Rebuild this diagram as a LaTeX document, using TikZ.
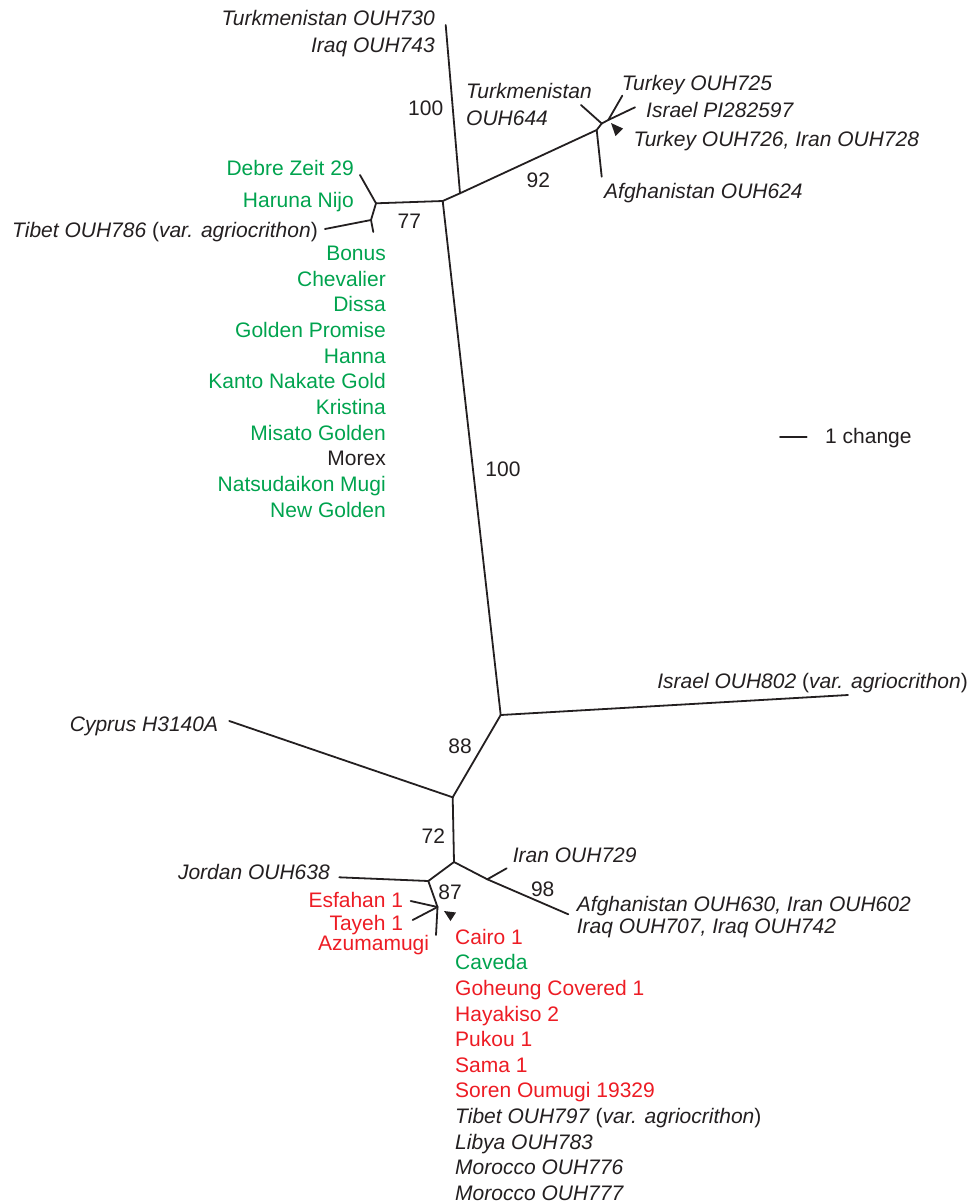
\documentclass[tikz,border=0pt]{standalone}
\usepackage{fontspec}
\setmainfont{Liberation Sans}
\definecolor{grn}{RGB}{0,163,78}
\definecolor{rd}{RGB}{237,28,36}
\definecolor{ink}{RGB}{35,31,32}
\begin{document}
\begin{tikzpicture}[x=1pt,y=-1pt,
  br/.style={line width=1.8pt, line cap=round, draw=ink},
  lab/.style={inner sep=0pt, text=ink, font=\fontsize{21}{25}\selectfont},
  itl/.style={lab, font=\fontsize{21}{25}\selectfont\itshape},
  gl/.style={lab, text=grn},
  rl/.style={lab, text=rd},
  tri/.style={fill=ink, draw=none}]
\useasboundingbox (0,0) rectangle (973,1203);
% ---------- internal nodes and leaf ends ----------
\coordinate (B) at (442.7,201);
\coordinate (A) at (460,193.3);
\coordinate (t730) at (445.7,25);
\coordinate (C) at (596.7,130);
\coordinate (afg624) at (601.7,176.7);
\coordinate (D1) at (601.7,123.5);
\coordinate (tk644) at (581,105);
\coordinate (D2) at (608.3,120);
\coordinate (tur725) at (622.3,95.7);
\coordinate (isr) at (635,107.3);
\coordinate (E) at (376,203.3);
\coordinate (debre) at (360,175);
\coordinate (F) at (371,220);
\coordinate (tib786) at (325,229);
\coordinate (fstub) at (373.3,232);
\coordinate (G) at (500.7,715);
\coordinate (isr802) at (848,695);
\coordinate (H) at (452.7,797.3);
\coordinate (cyp) at (229.3,721);
\coordinate (I) at (454,862);
\coordinate (J) at (428.3,881);
\coordinate (jor) at (339.3,877.3);
\coordinate (L) at (437.5,907);
\coordinate (esf) at (410.7,901);
\coordinate (tay) at (412.7,920);
\coordinate (azu) at (436,935);
\coordinate (K) at (487.3,879.3);
\coordinate (ir729) at (506.7,868.3);
\coordinate (afg630) at (568.3,914.3);
\coordinate (s1) at (780,436.7);
\coordinate (s2) at (806.7,436.7);
% ---------- branches ----------
\draw[br] (B) -- (A);
\draw[br] (A) -- (t730);
\draw[br] (A) -- (C);
\draw[br] (C) -- (afg624);
\draw[br] (C) -- (D1);
\draw[br] (D1) -- (tk644);
\draw[br] (D1) -- (D2);
\draw[br] (D2) -- (tur725);
\draw[br] (D2) -- (isr);
\draw[br] (B) -- (E);
\draw[br] (E) -- (debre);
\draw[br] (E) -- (F);
\draw[br] (F) -- (tib786);
\draw[br] (F) -- (fstub);
\draw[br] (B) -- (G);
\draw[br] (G) -- (isr802);
\draw[br] (G) -- (H);
\draw[br] (H) -- (cyp);
\draw[br] (H) -- (I);
\draw[br] (I) -- (J);
\draw[br] (J) -- (jor);
\draw[br] (J) -- (L);
\draw[br] (L) -- (esf);
\draw[br] (L) -- (tay);
\draw[br] (L) -- (azu);
\draw[br] (I) -- (K);
\draw[br] (K) -- (ir729);
\draw[br] (K) -- (afg630);
\draw[br] (s1) -- (s2);
% arrowheads (zero-length branches)
\fill[tri] (611,123) -- (623,128.5) -- (615.5,136) -- cycle;
\fill[tri] (444,911) -- (456,912.5) -- (450.5,921) -- cycle;
% ---------- support values ----------
\node[lab] (b100a) at (425.7,108.3) {100};
\node[lab] (b92) at (538.3,180) {92};
\node[lab] (b77) at (409.3,221) {77};
\node[lab] (b100b) at (503,469) {100};
\node[lab] (b88) at (460,746) {88};
\node[lab] (b72) at (433.3,836) {72};
\node[lab] (b98) at (542.7,889.3) {98};
\node[lab] (b87) at (450,892) {87};
% ---------- top labels ----------
\node[itl, anchor=base east] (l730) at (435,25.3) {Turkmenistan OUH730};
\node[itl, anchor=base east] (l743) at (435,52) {Iraq OUH743};
\node[itl, anchor=base west] (l644a) at (466,98.7) {Turkmenistan};
\node[itl, anchor=base west] (l644b) at (466,125.3) {OUH644};
\node[itl, anchor=base west] (l725) at (621.7,90.3) {Turkey OUH725};
\node[itl, anchor=base west] (lisr) at (646,117) {Israel PI282597};
\node[itl, anchor=base west] (l726) at (633.3,146) {Turkey OUH726, Iran OUH728};
\node[itl, anchor=base west] (l624) at (604,198) {Afghanistan OUH624};
% ---------- left cluster ----------
\node[gl, anchor=base east] (ldeb) at (354,175) {Debre Zeit 29};
\node[gl, anchor=base east] (lhar) at (354,207) {Haruna Nijo};
\node[lab, anchor=base east] (l786) at (318,237) {\textit{Tibet OUH786} (\textit{var. agriocrithon})};
\node[gl, anchor=base east] (c1) at (386,260.3) {Bonus};
\node[gl, anchor=base east] (c2) at (386,286) {Chevalier};
\node[gl, anchor=base east] (c3) at (386,311.6) {Dissa};
\node[gl, anchor=base east] (c4) at (386,337.3) {Golden Promise};
\node[gl, anchor=base east] (c5) at (386,363) {Hanna};
\node[gl, anchor=base east] (c6) at (386,388.6) {Kanto Nakate Gold};
\node[gl, anchor=base east] (c7) at (386,414.3) {Kristina};
\node[gl, anchor=base east] (c8) at (386,440) {Misato Golden};
\node[lab, anchor=base east] (c9) at (386,465.6) {Morex};
\node[gl, anchor=base east] (c10) at (386,491.3) {Natsudaikon Mugi};
\node[gl, anchor=base east] (c11) at (386,517) {New Golden};
% scale bar
\node[lab, anchor=base west] (lsc) at (825,443.7) {1 change};
% ---------- middle ----------
\node[lab, anchor=base east] (l802) at (968,688.5) {\textit{Israel OUH802} (\textit{var. agriocrithon})};
\node[itl, anchor=base east] (lcyp) at (218.3,731) {Cyprus H3140A};
% ---------- bottom ----------
\node[itl, anchor=base west] (l729) at (512.7,862) {Iran OUH729};
\node[itl, anchor=base east] (ljor) at (330,879) {Jordan OUH638};
\node[itl, anchor=base west] (l630) at (576.7,911) {Afghanistan OUH630, Iran OUH602};
\node[itl, anchor=base west] (l707) at (576.7,933.7) {Iraq OUH707, Iraq OUH742};
\node[rl, anchor=base east] (lesf) at (403.3,907.7) {Esfahan 1};
\node[rl, anchor=base east] (ltay) at (403.3,930.3) {Tayeh 1};
\node[rl, anchor=base east] (lazu) at (429.3,950.3) {Azumamugi};
\node[rl, anchor=base west] (d1) at (455,944.3) {Cairo 1};
\node[gl, anchor=base west] (d2) at (455,969.9) {Caveda};
\node[rl, anchor=base west] (d3) at (455,995.5) {Goheung Covered 1};
\node[rl, anchor=base west] (d4) at (455,1021.1) {Hayakiso 2};
\node[rl, anchor=base west] (d5) at (455,1046.7) {Pukou 1};
\node[rl, anchor=base west] (d6) at (455,1072.3) {Sama 1};
\node[rl, anchor=base west] (d7) at (455,1097.9) {Soren Oumugi 19329};
\node[lab, anchor=base west] (d8) at (455,1123.5) {\textit{Tibet OUH797} (\textit{var. agriocrithon})};
\node[itl, anchor=base west] (d9) at (455,1149.1) {Libya OUH783};
\node[itl, anchor=base west] (d10) at (455,1174.7) {Morocco OUH776};
\node[itl, anchor=base west] (d11) at (455,1200.3) {Morocco OUH777};
\end{tikzpicture}
\end{document}
